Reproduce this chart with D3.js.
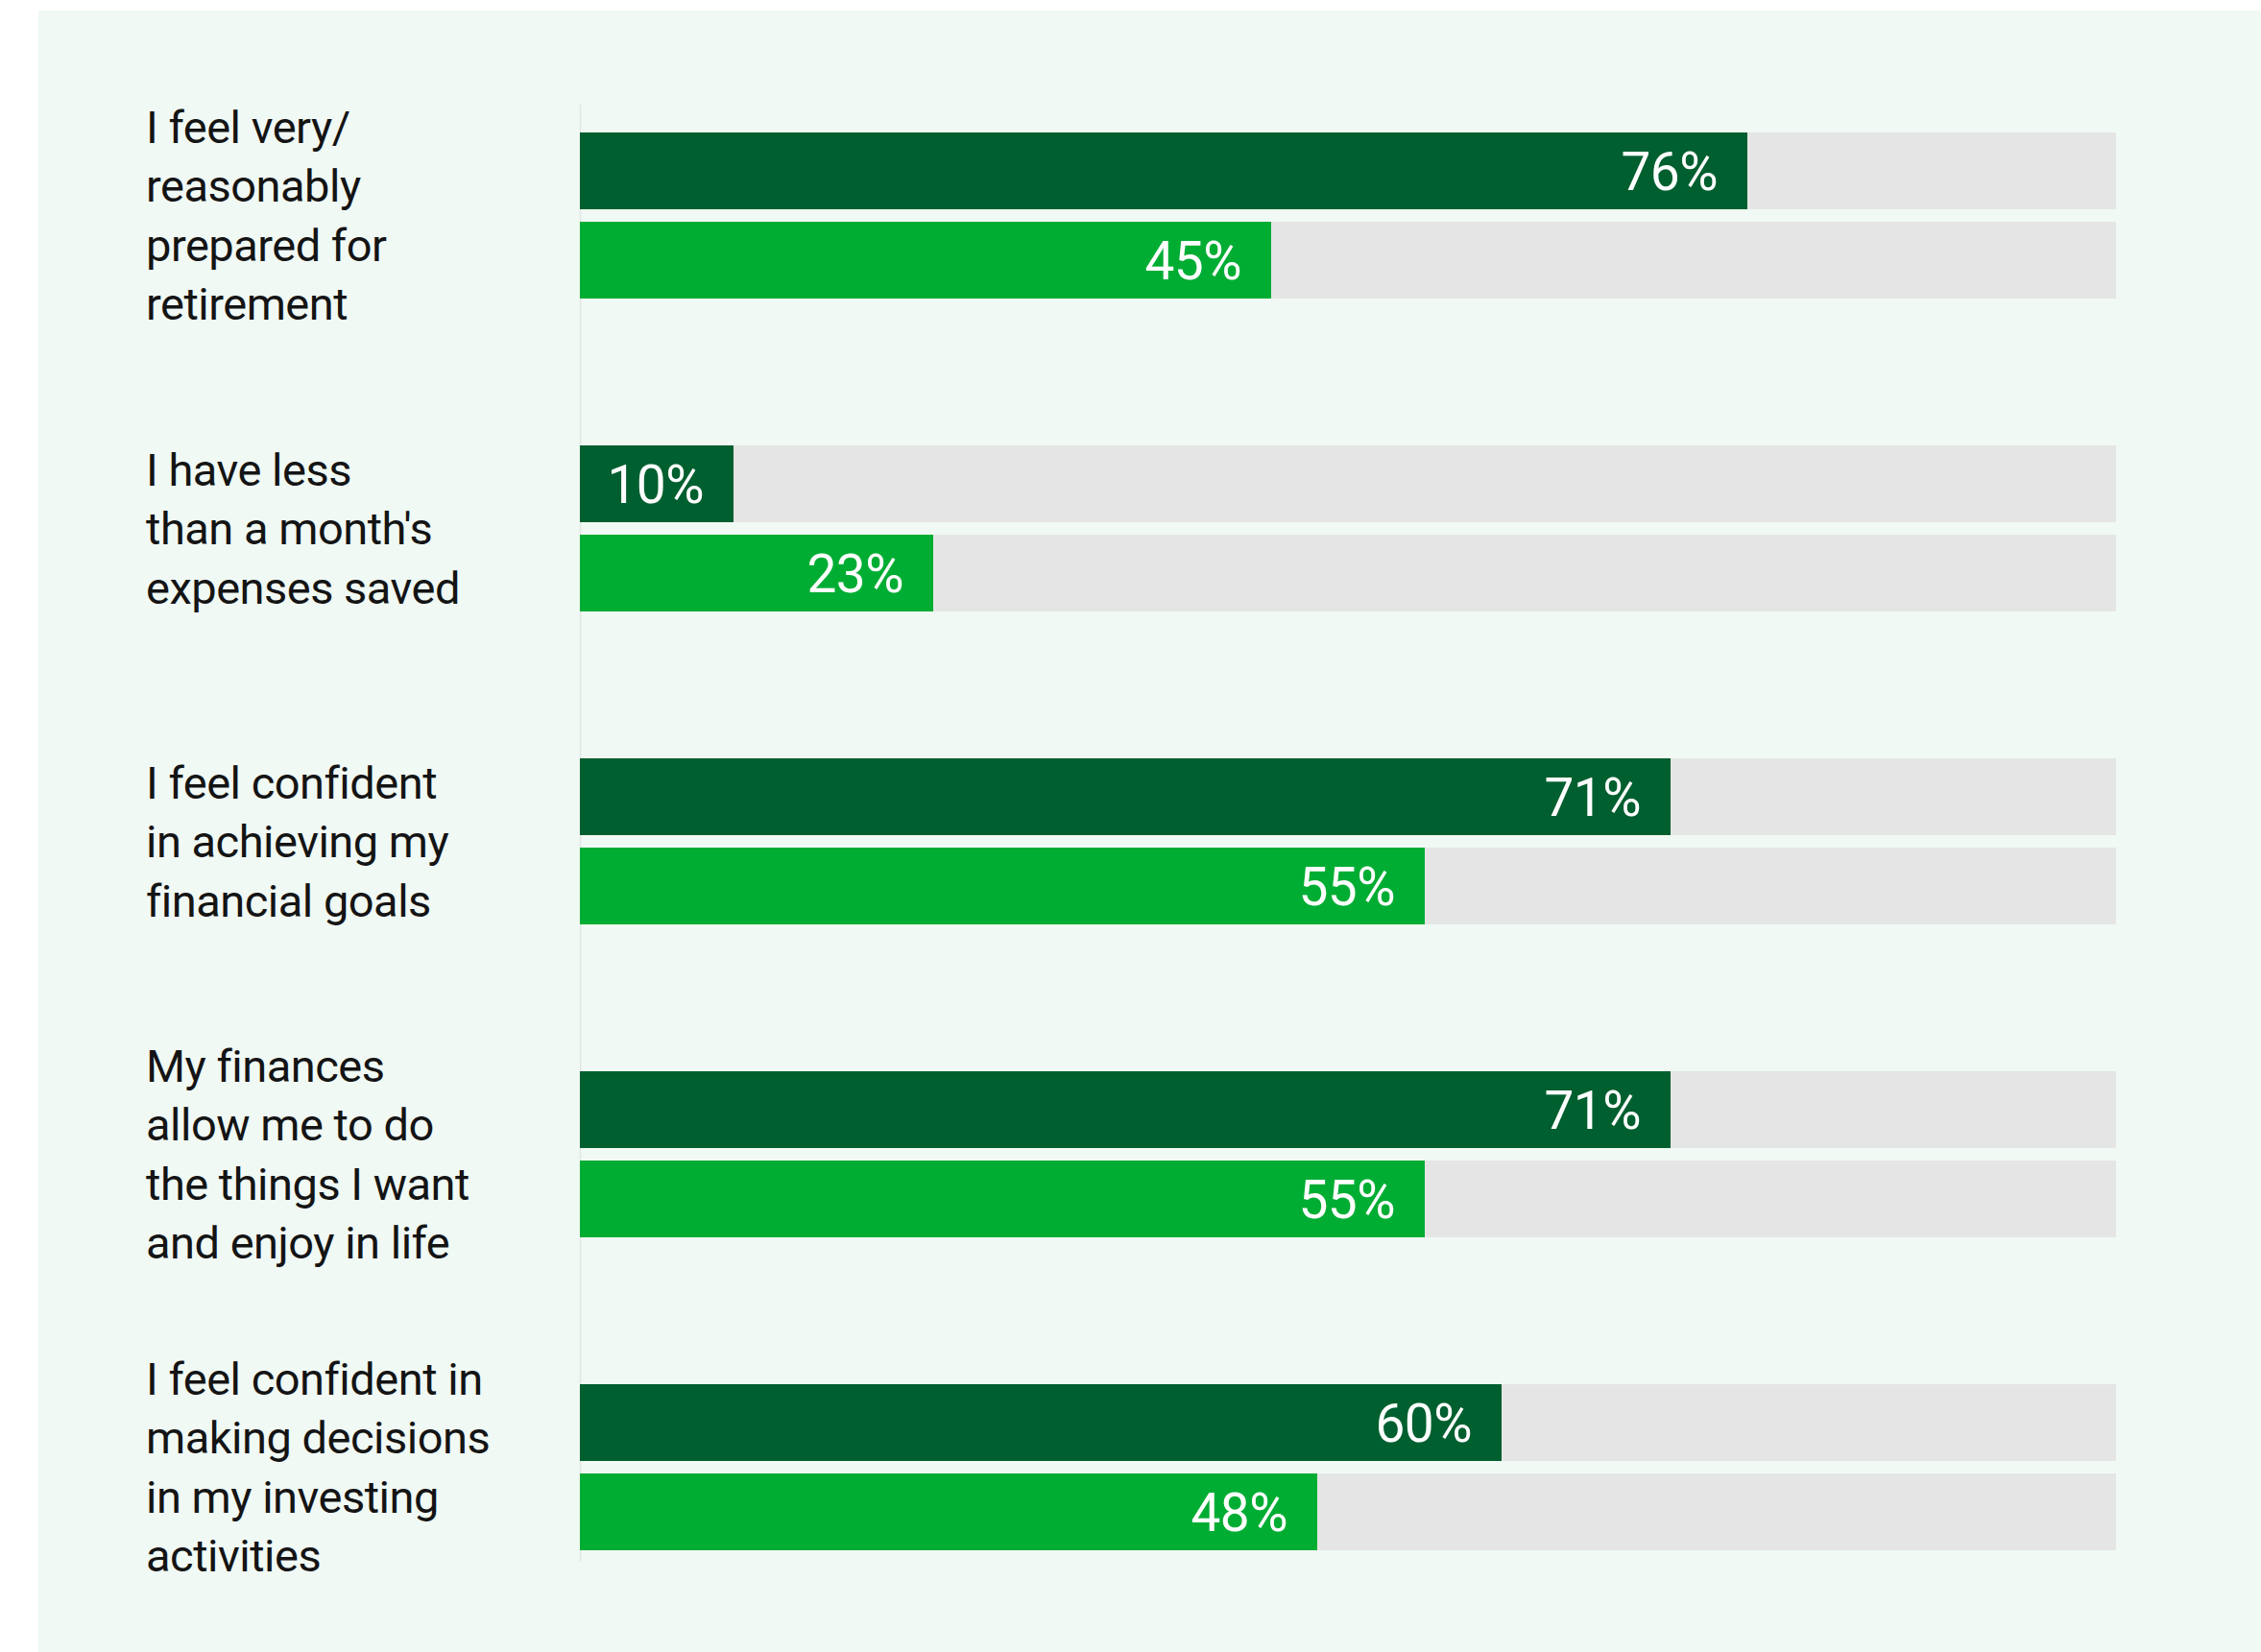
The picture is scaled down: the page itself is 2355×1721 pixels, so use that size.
<!DOCTYPE html>
<html>
<head>
<meta charset="utf-8">
<script src="https://cdn.jsdelivr.net/npm/d3@7"></script>
<style>
  html, body { margin: 0; padding: 0; background: #ffffff; }
  svg { display: block; }
</style>
</head>
<body>
<script>
// Survey statements (wrapped lines) and the two respondent groups' shares
const categories = [
  ["I feel very/", "reasonably", "prepared for", "retirement"],
  ["I have less", "than a month's", "expenses saved"],
  ["I feel confident", "in achieving my", "financial goals"],
  ["My finances", "allow me to do", "the things I want", "and enjoy in life"],
  ["I feel confident in", "making decisions", "in my investing", "activities"]
];
const seriesNames = ["groupA", "groupB"];
const groupA = [76, 10, 71, 71, 60];
const groupB = [45, 23, 55, 55, 48];
const maxValue = 100;

const W = 2355, H = 1721;
const colors = { groupA: "#005f2f", groupB: "#00ad33" };

const svg = d3.select("body").append("svg")
  .attr("width", W).attr("height", H);

// panel background
svg.append("rect")
  .attr("x", 40).attr("y", 11)
  .attr("width", W - 40).attr("height", H - 11)
  .attr("fill", "#f0f9f4");

const keys = categories.map((c, i) => i);

const x = d3.scaleLinear().domain([0, maxValue]).range([604, 2204]);

const y = d3.scaleBand()
  .domain(keys)
  .range([138, 1615])
  .paddingInner(0.4693)
  .paddingOuter(0);

const ySub = d3.scaleBand()
  .domain(seriesNames)
  .range([0, y.bandwidth()])
  .paddingInner(0.1398)
  .paddingOuter(0);

// baseline axis line
svg.append("line")
  .attr("x1", x(0) + 0.5).attr("x2", x(0) + 0.5)
  .attr("y1", 109).attr("y2", 1627)
  .attr("stroke", "#e2e6e4")
  .attr("stroke-width", 1.5);

const rows = keys.map(i => ({
  i,
  lines: categories[i],
  values: [
    { key: "groupA", v: groupA[i] },
    { key: "groupB", v: groupB[i] }
  ]
}));

const g = svg.selectAll("g.row").data(rows).join("g")
  .attr("class", "row")
  .attr("transform", d => `translate(0,${y(d.i)})`);

// full-width track behind each bar
g.selectAll("rect.track").data(d => d.values).join("rect")
  .attr("class", "track")
  .attr("x", x(0))
  .attr("y", d => ySub(d.key))
  .attr("width", x(maxValue) - x(0))
  .attr("height", ySub.bandwidth())
  .attr("fill", "#e5e5e5");

// value bars
g.selectAll("rect.bar").data(d => d.values).join("rect")
  .attr("class", "bar")
  .attr("x", x(0))
  .attr("y", d => ySub(d.key))
  .attr("width", d => x(d.v) - x(0))
  .attr("height", ySub.bandwidth())
  .attr("fill", d => colors[d.key]);

// value labels inside bar ends
const valueSize = 55;
g.selectAll("text.val").data(d => d.values).join("text")
  .attr("class", "val")
  .attr("x", d => x(d.v) - 31)
  .attr("y", d => ySub(d.key) + ySub.bandwidth() / 2 + valueSize * 0.355)
  .attr("text-anchor", "end")
  .attr("font-family", "Roboto, 'Liberation Sans', sans-serif")
  .attr("font-size", valueSize)
  .attr("letter-spacing", -0.5)
  .attr("fill", "#ffffff")
  .text(d => d.v + "%");

// category labels, vertically centred on each pair of bars
const labelSize = 47, lineH = 61.5, capH = labelSize * 0.71;
g.each(function(d) {
  const n = d.lines.length;
  const mid = y.bandwidth() / 2;
  const first = mid + capH / 2 - (n - 1) * lineH / 2;
  const t = d3.select(this).append("text")
    .attr("font-family", "Roboto, 'Liberation Sans', sans-serif")
    .attr("font-size", labelSize)
    .attr("letter-spacing", -0.5)
    .attr("fill", "#141414");
  t.selectAll("tspan").data(d.lines).join("tspan")
    .attr("x", 152)
    .attr("y", (s, k) => first + k * lineH)
    .text(s => s);
});
</script>
</body>
</html>
